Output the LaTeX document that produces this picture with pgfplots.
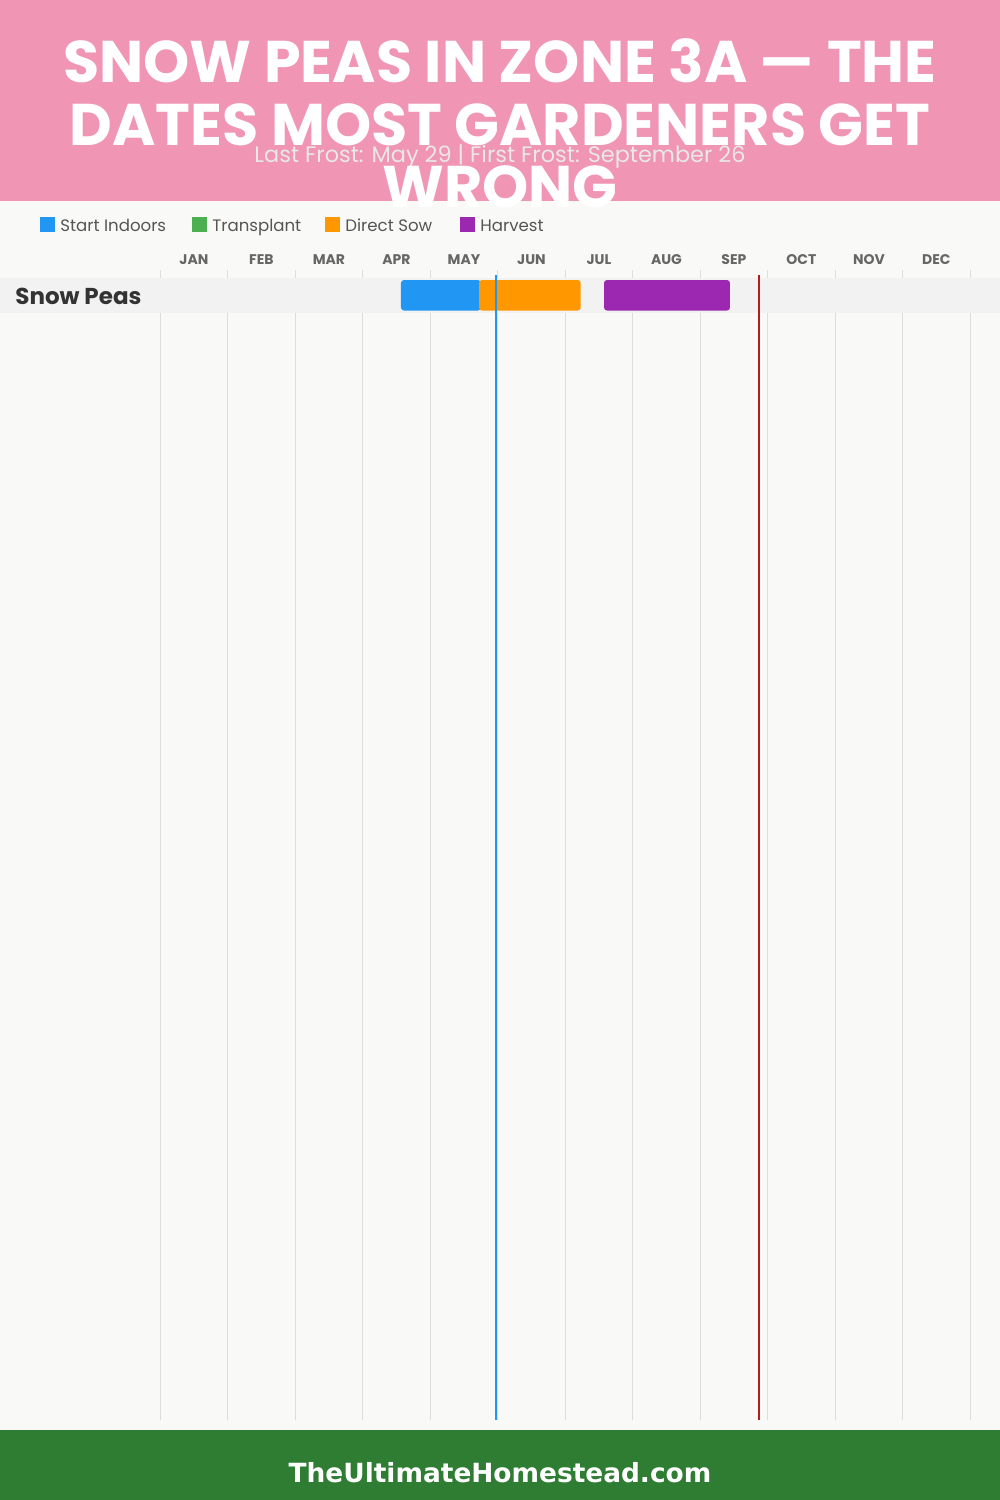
\documentclass[border=0pt]{standalone}
\usepackage{pgfplots}
\pgfplotsset{compat=1.18}
\usepackage{fontspec}
\setmainfont{Poppins}
\newfontfamily\footfont{DejaVu Sans}
\definecolor{bgc}{HTML}{F9F9F7}
\definecolor{headpink}{HTML}{F095B3}
\definecolor{footgreen}{HTML}{2E7D32}
\definecolor{bandc}{HTML}{F2F2F2}
\definecolor{gridc}{HTML}{DDDDDD}
\definecolor{cblue}{HTML}{2196F3}
\definecolor{cgreen}{HTML}{4CAF50}
\definecolor{corange}{HTML}{FF9800}
\definecolor{cpurple}{HTML}{9C27B0}
\definecolor{cred}{HTML}{B71C1C}
\definecolor{c333}{HTML}{333333}
\definecolor{c555}{HTML}{555555}
\definecolor{c666}{HTML}{666666}
\definecolor{subc}{HTML}{E8E8E8}
\begin{document}
\begin{tikzpicture}[x=0.5pt,y=-0.5pt]
\useasboundingbox (0,0) rectangle (1000,1500);
\fill[bgc] (0,0) rectangle (1000,1500);
\fill[headpink] (0,0) rectangle (1000,201);
\fill[footgreen] (0,1430) rectangle (1000,1500);
% legend
\fill[cblue] (40,217) rectangle (55,232);
\node[anchor=base west, inner sep=0, text=c555, font=\fontsize{8.3}{9}\selectfont] at (60,231) {Start Indoors};
\fill[cgreen] (192,217) rectangle (207,232);
\node[anchor=base west, inner sep=0, text=c555, font=\fontsize{8.3}{9}\selectfont] at (212,231) {Transplant};
\fill[corange] (325,217) rectangle (340,232);
\node[anchor=base west, inner sep=0, text=c555, font=\fontsize{8.3}{9}\selectfont] at (345,231) {Direct Sow};
\fill[cpurple] (460,217) rectangle (475,232);
\node[anchor=base west, inner sep=0, text=c555, font=\fontsize{8.3}{9}\selectfont] at (480,231) {Harvest};
\begin{axis}[
  at={(282.6pt,-422.5pt)}, anchor=center,
  scale only axis, width=405pt, height=575pt,
  xmin=0, xmax=12, ymin=270, ymax=1420, y dir=reverse,
  clip=false,
  axis line style={draw=none},
  xticklabel pos=upper,
  xtick={0.5,1.5,2.5,3.5,4.5,5.5,6.5,7.5,8.5,9.5,10.5,11.5},
  xticklabels={JAN,FEB,MAR,APR,MAY,JUN,JUL,AUG,SEP,OCT,NOV,DEC},
  minor xtick={0,1,2,3,4,5,6,7,8,9,10,11,12},
  xminorgrids=true,
  minor grid style={draw=gridc, line width=0.5pt},
  ytick=\empty,
  major tick length=0pt, minor tick length=0pt,
  tick style={draw=none},
  xticklabel style={font=\bfseries\fontsize{7}{8}\selectfont, text=c666, yshift=-1pt},
]
\fill[bandc] (axis cs:-2.373,278) rectangle (axis cs:12.441,313);
% Start Indoors
\addplot[fill=cblue, draw=none, rounded corners=1.5pt] coordinates {(3.567,280) (4.75,280) (4.75,310.5) (3.567,310.5)} -- cycle;
% Direct Sow
\addplot[fill=corange, draw=none, rounded corners=1.5pt] coordinates {(4.723,280) (6.230,280) (6.230,310.5) (4.723,310.5)} -- cycle;
% Harvest
\addplot[fill=cpurple, draw=none, rounded corners=1.5pt] coordinates {(6.575,280) (8.441,280) (8.441,310.5) (6.575,310.5)} -- cycle;
% Last frost / first frost
\addplot[cblue, line width=1pt] coordinates {(4.970,275) (4.970,1420)};
\addplot[cred, line width=1pt] coordinates {(8.871,275) (8.871,1420)};
\end{axis}
\node[anchor=base west, inner sep=0, text=c333, font=\bfseries\fontsize{11.5}{13}\selectfont] at (15,304) {Snow Peas};
% title
\node[anchor=base, inner sep=0, text=white, font=\bfseries\fontsize{29.4}{30}\selectfont] at (500,82) {SNOW PEAS IN ZONE 3A — THE};
\node[anchor=base, inner sep=0, text=white, font=\bfseries\fontsize{29.4}{30}\selectfont] at (500,145) {DATES MOST GARDENERS GET};
\node[anchor=base, inner sep=0, text=subc, font=\fontsize{11.2}{12}\selectfont] at (500,162) {Last Frost: May 29 | First Frost: September 26};
\node[anchor=base, inner sep=0, text=white, font=\bfseries\fontsize{29.4}{30}\selectfont] at (500,207) {WRONG};
\node[anchor=base, inner sep=0, text=white, font=\footfont\bfseries\fontsize{13.2}{16}\selectfont] at (500,1482) {TheUltimateHomestead.com};
\end{tikzpicture}
\end{document}
